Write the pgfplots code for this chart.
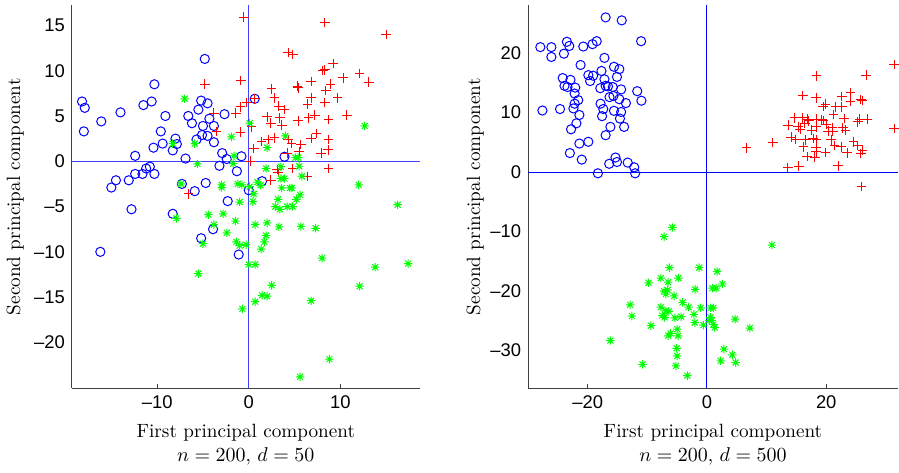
\documentclass[border=0pt]{standalone}
\usepackage{fontspec}
\newfontfamily\helv[Ligatures=TeX]{Liberation Sans}
\usepackage{pgfplots}
\pgfplotsset{compat=1.18}

% MATLAB-style '*' marker: plus and cross together
\pgfdeclareplotmark{mstar}{%
  \pgfpathmoveto{\pgfqpoint{-\pgfplotmarksize}{0pt}}%
  \pgfpathlineto{\pgfqpoint{\pgfplotmarksize}{0pt}}%
  \pgfpathmoveto{\pgfqpoint{0pt}{-\pgfplotmarksize}}%
  \pgfpathlineto{\pgfqpoint{0pt}{\pgfplotmarksize}}%
  \pgfpathmoveto{\pgfqpoint{-0.707\pgfplotmarksize}{-0.707\pgfplotmarksize}}%
  \pgfpathlineto{\pgfqpoint{0.707\pgfplotmarksize}{0.707\pgfplotmarksize}}%
  \pgfpathmoveto{\pgfqpoint{-0.707\pgfplotmarksize}{0.707\pgfplotmarksize}}%
  \pgfpathlineto{\pgfqpoint{0.707\pgfplotmarksize}{-0.707\pgfplotmarksize}}%
  \pgfusepathqstroke}

\pgfplotsset{
  pcaplot/.style={
    scale only axis, height=191.5pt,
    axis lines*=left,
    axis line style={black!75, line width=0.5pt},
    clip=false,
    tick align=inside, major tick length=2pt,
    xtick style={black!75, line width=0.5pt},
    ytick style={draw=none},
    tick label style={font=\helv\fontsize{9.2}{10}\selectfont},
    label style={font=\fontsize{9.6}{12}\selectfont},
    xlabel style={at={(axis description cs:0.5,-0.149)}, anchor=center, align=center},
  },
  grpA/.style={only marks, blue, mark=o, mark size=2.3pt, line width=0.5pt},
  grpB/.style={only marks, red, mark=+, mark size=2.4pt, line width=0.5pt},
  grpC/.style={only marks, green, mark=mstar, mark size=2.1pt, line width=0.5pt},
  zeroline/.style={sharp plot, no marks, line width=0.5pt},
}

\begin{document}
\begin{tikzpicture}
% d = 50
\begin{axis}[pcaplot, at={(0,0)}, width=174pt,
    xmin=-19.3, xmax=18.65, ymin=-25.05, ymax=17.2,
    xtick={-10,0,10}, xticklabels={--10,0,10},
    ytick={-20,-15,...,15}, yticklabels={--20,--15,--10,--5,0,5,10,15},
    ylabel style={at={(axis description cs:-0.163,0.5)}, anchor=center},
    xlabel={First principal component\\$n=200$, $d=50$},
    ylabel={Second principal component}]
  \addplot[grpA] coordinates {
    (-18.2,6.6) (-17.9,5.9) (-18.0,3.3) (-16.1,4.4) (-14.0,5.4) (-10.3,8.5)
    (-10.6,6.6) (-11.5,6.2) (-9.1,5.0) (-9.6,3.3) (-10.4,1.5) (-9.4,1.95)
    (-8.0,2.5) (-7.85,1.9) (-8.3,1.2) (-12.4,0.6) (-6.9,0.3) (-4.8,11.3)
    (-5.2,6.7) (-4.5,6.4) (-5.5,5.7) (-6.6,5.0) (-6.2,4.2) (-4.3,4.7)
    (-5.0,3.9) (-3.8,3.9) (-2.65,5.2) (-5.1,2.9) (-4.5,2.8) (-5.7,2.4)
    (-3.8,2.1) (-2.9,0.9) (-2.4,0.25) (-0.8,0.55) (-3.2,-0.5) (-1.3,-1.1)
    (-10.3,-1.4) (-10.8,-0.6) (-11.2,-0.8) (-11.6,-1.4) (-12.4,-1.4) (-13.1,-2.1)
    (-14.5,-2.1) (-15.0,-2.9) (-7.3,-2.5) (-4.7,-2.4) (-5.9,-3.3) (0,-3.2)
    (-2.3,-4.4) (0.65,6.9) (3.9,0.5) (1.45,-2.2) (-12.8,-5.3) (-16.2,-10.0)
    (-8.3,-5.8) (-3.9,-7.5) (-5.2,-8.5) (-1.1,-10.3)
  };
  \addplot[grpB] coordinates {
    (-0.55,15.9) (-4.8,8.5) (-0.85,8.9) (-0.2,6.5) (-0.9,6.0) (-1.4,5.3)
    (-3.8,5.3) (-3.5,3.3) (-0.9,3.2) (0.3,3.8) (0.55,1.4) (0.15,0.0)
    (-6.6,-3.6) (0.65,6.9) (8.3,15.3) (15.0,14.0) (4.3,12.0) (4.8,11.8)
    (9.2,10.8) (8.1,10.0) (8.3,10.1) (12.1,9.7) (10.3,9.2) (13.1,8.75)
    (6.8,8.8) (8.9,8.5) (5.3,8.3) (5.4,8.1) (2.5,8.0) (8.4,7.8) (2.8,7.0)
    (6.8,7.0) (9.7,7.0) (8.3,6.5) (6.4,6.3) (3.3,6.1) (3.85,5.7) (2.0,4.9)
    (3.4,4.8) (6.5,4.8) (7.2,5.1) (10.7,5.1) (8.7,4.6) (2.4,4.2) (3.6,4.0)
    (5.4,4.45) (7.4,3.05) (2.8,2.6) (2.1,2.4) (1.4,2.2) (6.8,2.5) (8.7,2.4)
    (4.3,2.4) (4.65,1.95) (5.7,1.85) (8.65,1.25) (7.9,0.9) (5.5,1.1) (4.2,0.9)
    (8.7,-0.8) (4.8,-0.8) (3.1,-0.9) (3.2,-1.25) (6.4,-1.7) (2.4,-2.1)
  };
  \addplot[grpC] coordinates {
    (-7.0,6.9) (-8.3,1.95) (-5.9,1.95) (-5.6,-0.3) (-1.9,2.7) (0.1,4.2)
    (-1.6,0.6) (-1.7,-0.25) (-7.4,-2.5) (-2.95,-2.6) (-2.95,-2.9) (-1.2,-2.5)
    (-0.75,-2.6) (0.1,-2.8) (0.95,-2.3) (0.55,-3.6) (12.65,3.9) (4.0,2.8)
    (2.0,1.5) (5.1,0.4) (5.4,0.4) (1.9,-0.8) (3.5,-0.6) (5.5,-0.55)
    (5.8,-1.65) (3.5,-1.9) (3.9,-1.9) (12.0,-2.6) (1.3,-2.65) (3.6,-2.95)
    (4.5,-2.95) (4.7,-2.95) (5.6,-3.7) (3.2,-4.2) (5.2,-4.2) (-7.9,-6.3)
    (-4.4,-5.9) (-2.8,-5.8) (-3.8,-7.0) (-2.4,-7.9) (-1.45,-6.6) (-1.0,-4.5)
    (0.45,-4.45) (-1.35,-8.9) (-1.0,-9.3) (-0.3,-9.2) (-5.0,-9.1) (0,-11.4)
    (0.7,-11.4) (-5.5,-12.4) (-0.7,-16.3) (0.7,-15.5) (0.7,-7.0) (16.25,-4.8)
    (2.9,-5.0) (3.4,-5.3) (4.2,-5.0) (4.8,-5.0) (2.0,-6.8) (3.3,-7.25)
    (5.7,-7.2) (7.3,-7.4) (1.9,-8.2) (1.7,-8.9) (1.35,-9.7) (8.0,-10.7)
    (13.8,-11.7) (17.4,-11.3) (2.5,-13.7) (12.1,-13.8) (1.45,-14.8) (2.0,-14.9)
    (6.8,-15.4) (8.8,-21.85) (5.6,-23.8)
  };
  \addplot[zeroline, blue!75] coordinates {(-19.3,0) (18.65,0)};
  \addplot[zeroline, blue!75] coordinates {(0,-25.05) (0,17.2)};
\end{axis}

% d = 500
\begin{axis}[pcaplot, at={(228.3pt,0)}, width=185pt,
    xmin=-30, xmax=32, ymin=-36.3, ymax=28,
    xtick={-20,0,20}, xticklabels={--20,0,20},
    ytick={-30,-20,...,20}, yticklabels={--30,--20,--10,0,10,20},
    ylabel style={at={(axis description cs:-0.143,0.5)}, anchor=center},
    xlabel={First principal component\\$n=200$, $d=500$},
    ylabel={Second principal component}]
  \addplot[grpA] coordinates {
    (-27.95,21.0) (-26.1,21.0) (-26.1,19.35) (-27.6,10.35) (-24.65,10.6) (-24.0,19.9)
    (-23.5,21.9) (-23.1,21.2) (-20.75,21.1) (-19.2,21.5) (-18.5,22.0) (-17.0,26.0)
    (-14.3,25.5) (-11.05,22.0) (-21.2,18.0) (-17.2,19.2) (-24.2,15.8) (-22.9,15.5)
    (-23.9,14.5) (-23.4,14.3) (-22.1,14.2) (-22.2,13.2) (-21.6,12.1) (-22.2,11.5)
    (-22.4,10.7) (-21.4,9.6) (-21.9,8.2) (-22.8,7.2) (-21.4,4.8) (-19.9,5.1)
    (-23.0,3.2) (-21.0,2.1) (-19.9,16.3) (-19.1,16.2) (-19.6,15.3) (-17.7,17.0)
    (-17.2,15.6) (-17.9,14.1) (-17.0,14.5) (-16.6,14.4) (-15.8,14.3) (-15.6,17.7)
    (-14.7,17.3) (-15.1,16.0) (-14.4,13.9) (-16.35,12.6) (-15.7,12.8) (-14.7,12.25)
    (-17.85,11.5) (-17.4,10.6) (-17.6,9.4) (-15.6,10.3) (-14.4,10.1) (-14.6,9.0)
    (-13.6,11.6) (-11.7,13.6) (-11.0,12.0) (-16.2,7.6) (-13.9,7.6) (-17.0,6.2)
    (-18.3,-0.2) (-16.4,1.4) (-15.35,2.45) (-15.1,1.7) (-13.3,1.6) (-12.2,0.8)
    (-12.05,-0.2)
  };
  \addplot[grpB] coordinates {
    (31.4,18.1) (18.4,16.2) (26.7,16.3) (16.1,12.9) (18.3,12.5) (22.6,12.7)
    (24.05,13.4) (24.1,11.9) (25.8,12.2) (26.0,12.0) (19.9,11.4) (19.5,11.0)
    (21.6,10.95) (22.6,10.95) (21.25,9.7) (14.7,9.1) (15.95,9.1) (16.9,8.9)
    (17.1,8.6) (18.3,8.9) (19.2,8.8) (19.5,8.7) (16.4,8.2) (13.6,7.9)
    (15.3,7.6) (15.6,7.2) (17.5,7.05) (18.3,7.6) (20.0,8.05) (23.0,9.0)
    (25.3,8.45) (25.6,8.9) (26.9,8.9) (22.8,7.45) (23.2,7.05) (21.0,7.45)
    (21.1,6.8) (20.3,6.9) (17.8,5.65) (18.4,5.5) (16.6,5.4) (14.9,5.5)
    (14.1,5.9) (11.05,5.0) (6.6,4.1) (16.2,4.25) (18.3,4.1) (18.3,3.4)
    (20.8,5.4) (21.4,4.5) (22.5,4.25) (24.6,5.1) (25.3,4.5) (26.1,3.7)
    (25.8,3.1) (23.5,3.25) (19.9,3.3) (16.8,2.6) (18.1,2.5) (13.55,0.8)
    (15.4,1.0) (22.0,1.05) (31.4,7.3) (25.9,-2.45)
  };
  \addplot[grpC] coordinates {
    (-5.8,-9.3) (-7.2,-10.85) (10.9,-12.25) (-6.3,-16.05) (-1.3,-16.05) (1.7,-16.7)
    (-9.8,-18.6) (-7.75,-17.8) (-6.5,-18.5) (-4.8,-17.8) (2.6,-18.8) (0.9,-19.5)
    (1.55,-19.5) (-2.0,-19.7) (-7.2,-20.0) (-6.9,-20.5) (-6.6,-19.8) (-5.5,-20.8)
    (-4.1,-21.9) (-12.9,-22.3) (-7.75,-22.7) (-3.1,-22.7) (-1.05,-22.8) (0.6,-22.8)
    (1.05,-22.8) (-6.9,-23.3) (-6.4,-23.4) (-12.6,-24.2) (-7.5,-24.1) (-7.1,-24.4)
    (-5.4,-24.5) (-4.35,-24.3) (-2.2,-23.9) (0.6,-24.4) (0.8,-24.9) (0.35,-24.9)
    (1.05,-25.6) (1.3,-26.1) (-2.05,-25.3) (-0.6,-25.7) (4.7,-24.7) (7.2,-26.2)
    (-9.4,-25.8) (-5.0,-26.4) (-6.1,-27.1) (-6.5,-27.5) (-4.85,-27.5) (-16.2,-28.3)
    (2.85,-29.75) (4.25,-30.7) (2.3,-31.7) (4.8,-32.0) (-5.1,-29.6) (-5.0,-30.9)
    (-10.8,-32.3) (-5.2,-32.55) (-3.3,-34.2)
  };
  \addplot[zeroline, blue] coordinates {(-30,0) (32,0)};
  \addplot[zeroline, blue] coordinates {(0,-36.3) (0,28)};
\end{axis}
\path ([yshift=2.5pt]current bounding box.north);
\end{tikzpicture}
\end{document}
